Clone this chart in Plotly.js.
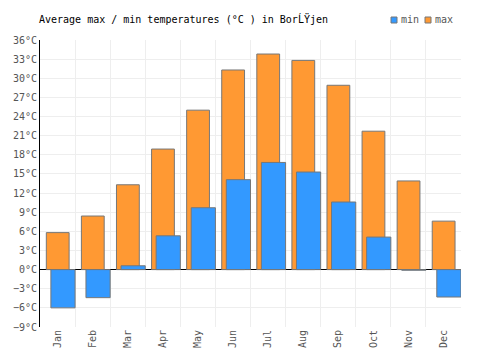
<!DOCTYPE html>
<html><head><meta charset="utf-8">
<script src="https://cdn.plot.ly/plotly-3.0.1.min.js"></script>
<style>html,body{margin:0;padding:0;background:#fff}#c{width:500px;height:350px}</style>
</head><body><div id="c"></div>
<script>
const months = ['Jan','Feb','Mar','Apr','May','Jun','Jul','Aug','Sep','Oct','Nov','Dec'];
const maxTemps = [5.8, 8.4, 13.3, 18.9, 25.0, 31.3, 33.8, 32.8, 28.9, 21.7, 13.9, 7.6];
const minTemps = [-6.0, -4.4, 0.6, 5.3, 9.7, 14.1, 16.8, 15.3, 10.6, 5.1, -0.1, -4.3];
const yTicks = [-9,-6,-3,0,3,6,9,12,15,18,21,24,27,30,33,36];
const seriesNames = ['min','max'];
const seriesColors = ['#3399ff','#ff9933'];

const font = 'DejaVu Sans Mono, monospace';
const FS = 10;
const W = 500, H = 350;
const traces = [
  {type:'bar', name:'max', x:months, y:maxTemps, width:0.65, offset:-0.32, showlegend:false,
   marker:{color:seriesColors[1], line:{color:'#777777', width:1}}, hoverinfo:'skip'},
  {type:'bar', name:'min', x:months, y:minTemps, width:0.69, offset:-0.19, showlegend:false,
   marker:{color:seriesColors[0], line:{color:'#777777', width:1}}, hoverinfo:'skip'}
];
// manual legend (positions in container pixels -> paper fractions)
const legX = [391, 425];
const shapes = [], annotations = [];
seriesNames.forEach((n,i)=>{
  shapes.push({type:'rect', xref:'paper', yref:'paper', layer:'above',
    x0:(legX[i]-40)/421, x1:(legX[i]+6-40)/421, y0:(327-23)/287, y1:(327-17)/287,
    fillcolor:seriesColors[i], line:{color:'#777777', width:1}});
  annotations.push({xref:'paper', yref:'paper', x:(legX[i]+7.5-40)/421, y:(327-20)/287,
    xanchor:'left', yanchor:'middle', showarrow:false, text:n,
    font:{family:font, size:FS, color:'#555'}});
});
const layout = {
  width:W, height:H,
  margin:{l:40, r:39, t:40, b:23},
  paper_bgcolor:'#fff', plot_bgcolor:'#fff',
  barmode:'overlay',
  font:{family:font, size:FS, color:'#555'},
  title:{text:'Average max / min temperatures (°C ) in BorĹŸjen', x:39/W, xanchor:'left', y:1-19.5/H, yanchor:'middle',
         font:{family:font, size:FS, color:'#000'}},
  showlegend:false,
  shapes, annotations,
  xaxis:{type:'category', tickson:'boundaries', showgrid:true, gridcolor:'#eeeeee', gridwidth:1,
         tickangle:-90, ticks:'', showline:false, zeroline:false,
         tickfont:{family:font, size:FS, color:'#555'}},
  yaxis:{range:[-9,36], tickvals:yTicks, ticktext:yTicks.map(v=>(v<0?'−'+(-v):v)+'°C'),
         showgrid:true, gridcolor:'#eeeeee', gridwidth:1,
         zeroline:true, zerolinecolor:'#000', zerolinewidth:1,
         showline:true, linecolor:'#000', linewidth:1, ticks:'', ticklen:0,
         tickfont:{family:font, size:FS, color:'#555'}}
};
Plotly.newPlot('c', traces, layout, {displayModeBar:false, staticPlot:true});
</script></body></html>
